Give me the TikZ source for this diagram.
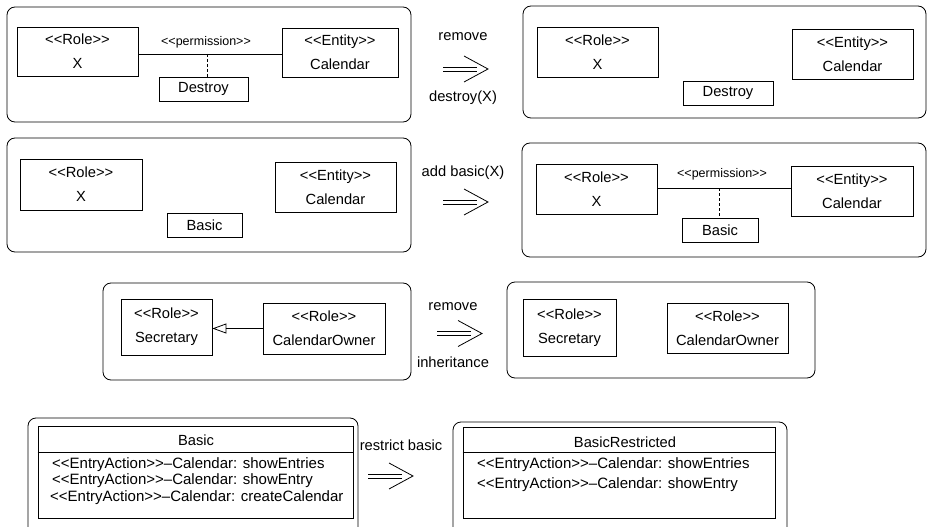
\documentclass[tikz,border=0pt]{standalone}
\usepackage{fontspec}
\setmainfont{Liberation Sans}
\usetikzlibrary{fit,arrows.meta}
\newcommand\stereo[1]{<\kern0pt<#1>\kern0pt>}
\begin{document}
\begin{tikzpicture}[x=1pt,y=-1pt,
  every node/.style={font=\fontsize{14.7}{24}\selectfont},
  panel/.style={draw, line width=0.8pt, rounded corners=8pt, inner sep=0pt},
  box/.style={draw, line width=0.8pt, inner sep=0pt, align=center},
  sz/.style 2 args={minimum width=#1pt, minimum height=#2pt},
  lbl/.style={inner sep=0pt},
  permlbl/.style={inner sep=0pt, font=\fontsize{12.5}{14}\selectfont},
  conn/.style={line width=0.8pt},
  dconn/.style={line width=0.8pt, dash pattern=on 3pt off 2pt},
  implies/.pic={\draw[line width=0.8pt] (0,-2) -- (34,-2) (0,2) -- (34,2);
                \draw[line width=0.8pt] (21,-13) -- (45,0) -- (21,13);},
  entry/.style={anchor=west, inner sep=0pt, font=\fontsize{15}{17}\selectfont},
]
\path[use as bounding box, clip] (0,0) rectangle (927,527);

% ---------- row 1 left
\node[panel, fit={(7,7) (411,122)}] (p1) {};
\node[box, sz={121}{49}] (r1) at (77.5,51.5) {\stereo{Role}\\X};
\node[box, sz={116}{49}] (e1) at (340,52.5) {\stereo{Entity}\\Calendar};
\node[box, sz={89}{24}] (d1) at (203.5,89) {Destroy};
\coordinate (m1) at (207,54);
\draw[conn] (r1.east |- m1) -- (e1.west |- m1);
\draw[dconn] (m1) -- (m1 |- d1.north);
\node[permlbl] (pl1) at (206,42) {\stereo{permission}};

% arrow 1
\node[lbl] (t1a) at (463,37) {remove};
\pic at (443,69) {implies};
\node[lbl] (t1b) at (463,98) {destroy(X)};

% ---------- row 1 right
\node[panel, fit={(523,6) (926,118)}] (p2) {};
\node[box, sz={121}{50}] (r2) at (597.5,52) {\stereo{Role}\\X};
\node[box, sz={121}{50}] (e2) at (852.5,54) {\stereo{Entity}\\Calendar};
\node[box, sz={90}{24}] (d2) at (728,93) {Destroy};

% ---------- row 2 left
\node[panel, fit={(7,138) (411,252)}] (p3) {};
\node[box, sz={122}{51}] (r3) at (81,184.5) {\stereo{Role}\\X};
\node[box, sz={121}{50}] (e3) at (335.5,187) {\stereo{Entity}\\Calendar};
\node[box, sz={75}{24}] (b3) at (204.5,225) {Basic};

% arrow 2
\node[lbl] (t2a) at (463,173) {add basic(X)};
\pic at (443,202) {implies};

% ---------- row 2 right
\node[panel, fit={(522,143) (926,257)}] (p4) {};
\node[box, sz={121}{50}] (r4) at (596.5,189) {\stereo{Role}\\X};
\node[box, sz={122}{50}] (e4) at (852,191) {\stereo{Entity}\\Calendar};
\node[box, sz={76}{24}] (b4) at (720,230) {Basic};
\coordinate (m4) at (719,188);
\draw[conn] (r4.east |- m4) -- (e4.west |- m4);
\draw[dconn] (m4) -- (m4 |- b4.north);
\node[permlbl] (pl4) at (722,174) {\stereo{permission}};

% ---------- row 3 left
\node[panel, fit={(103,283) (411,380)}] (p5) {};
\node[box, sz={91}{56}] (s5) at (166.5,327) {\stereo{Role}\\Secretary};
\node[box, sz={122}{51}] (c5) at (324,328.5) {\stereo{Role}\\CalendarOwner};
\draw[conn, -{Triangle[open, length=14pt, width=10pt]}] (c5.west) -- (c5.west -| s5.east);

% arrow 3
\node[lbl] (t3a) at (453,307) {remove};
\pic at (437,333.5) {implies};
\node[lbl] (t3b) at (453,362) {inheritance};

% ---------- row 3 right
\node[panel, fit={(507,282) (815,378)}] (p6) {};
\node[box, sz={93}{57}] (s6) at (569.5,327.5) {\stereo{Role}\\Secretary};
\node[box, sz={121}{50}] (c6) at (727.5,328) {\stereo{Role}\\CalendarOwner};

% ---------- row 4 left
\node[panel, fit={(28,418) (358,536)}] (p7) {};
\node[box, sz={315}{92}] (k7) at (195.5,472) {};
\coordinate (sep7) at (0,452);
\draw[conn] (k7.west |- sep7) -- (k7.east |- sep7);
\node[lbl] (h7) at (196,440) {Basic};
\node[entry] (e7a) at (52,465) {\stereo{EntryAction}–Calendar: showEntries};
\node[entry] (e7b) at (52,480.5) {\stereo{EntryAction}–Calendar: showEntry};
\node[entry] (e7c) at (50,497.5) {\stereo{EntryAction}–Calendar: createCalendar};

% arrow 4
\node[lbl] (t4a) at (401,445) {restrict basic};
\pic at (368,476) {implies};

% ---------- row 4 right
\node[panel, fit={(453,422) (787,536)}] (p8) {};
\node[box, sz={312}{91}] (k8) at (619,472.5) {};
\coordinate (sep8) at (0,452);
\draw[conn] (k8.west |- sep8) -- (k8.east |- sep8);
\node[lbl] (h8) at (625,442) {BasicRestricted};
\node[entry] (e8a) at (477,465) {\stereo{EntryAction}–Calendar: showEntries};
\node[entry] (e8b) at (477,485) {\stereo{EntryAction}–Calendar: showEntry};
\end{tikzpicture}
\end{document}
